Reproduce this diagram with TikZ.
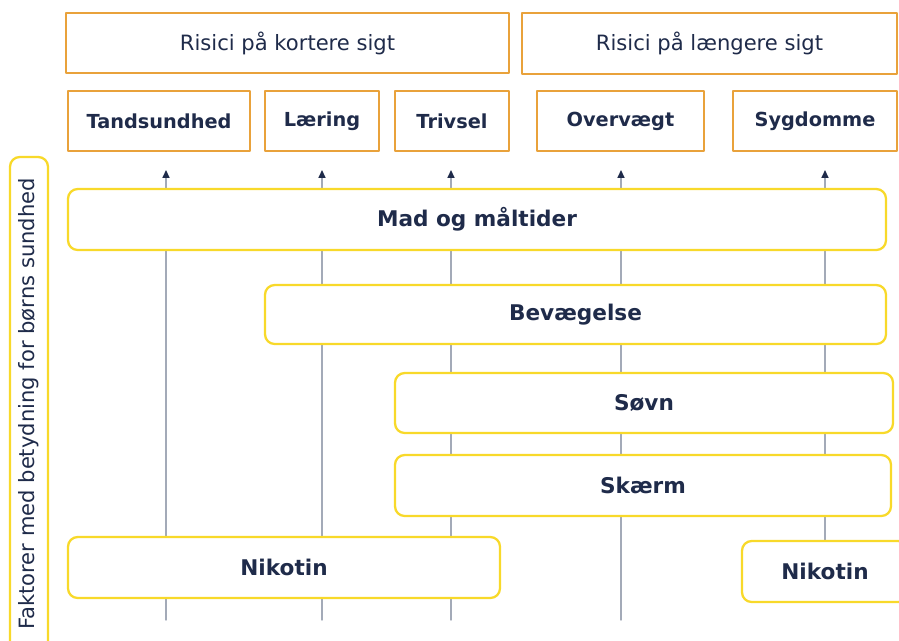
\documentclass[tikz,border=0pt]{standalone}
\usepackage{fontspec}
\setmainfont{DejaVu Sans}
\usetikzlibrary{arrows.meta}
\definecolor{navy}{HTML}{1F2B4A}
\definecolor{riskorange}{HTML}{E9A23B}
\definecolor{factyellow}{HTML}{F8D92A}
\definecolor{linegray}{HTML}{A3AAB8}
\begin{document}
\begin{tikzpicture}[x=0.02cm,y=-0.02cm,line cap=round,line join=round,
  riskhead/.style={draw=riskorange,line width=1.2pt,fill=white,inner sep=0pt,
    text=navy,font=\fontsize{12}{14}\selectfont},
  riskbox/.style={draw=riskorange,line width=1.2pt,fill=white,inner sep=0pt,
    text=navy,font=\fontsize{11}{13}\selectfont\bfseries},
  factbox/.style={draw=factyellow,line width=1.3pt,fill=white,rounded corners=5.5pt,
    inner sep=0pt,text=navy,font=\fontsize{12.3}{14}\selectfont\bfseries},
  link/.style={draw=linegray,line width=0.8pt},
  up/.style={link,-{Triangle[length=4.5pt,width=4pt,fill=navy,color=navy]}}]
\def\u{0.02cm}

% 画布（像素坐标，y 向下）
\useasboundingbox (0,0) rectangle (899,640);
\clip (0,0) rectangle (899,640);

% 竖线的端点：上端为箭头尖，下端为线尾
\coordinate (t1) at (166,170); \coordinate (b1) at (166,620);
\coordinate (t2) at (322,170); \coordinate (b2) at (322,620);
\coordinate (t3) at (451,170); \coordinate (b3) at (451,620);
\coordinate (t4) at (621,170); \coordinate (b4) at (621,620);
\coordinate (t5) at (825,170); \coordinate (b5) at (825,560);

\draw[up] (b1) -- (t1);
\draw[up] (b2) -- (t2);
\draw[up] (b3) -- (t3);
\draw[up] (b4) -- (t4);
\draw[up] (b5) -- (t5);

% 上方：风险
\node[riskhead,minimum width=443*\u,minimum height=60*\u] (kort) at (287.5,43) {Risici på kortere sigt};
\node[riskhead,minimum width=375*\u,minimum height=61*\u] (lang) at (709.5,43.5) {Risici på længere sigt};

\node[riskbox,minimum width=182*\u,minimum height=60*\u] (tand) at (159,121) {Tandsundhed};
\node[riskbox,minimum width=114*\u,minimum height=60*\u] (laer) at (322,121) {Læring};
\node[riskbox,minimum width=114*\u,minimum height=60*\u] (triv) at (452,121) {Trivsel};
\node[riskbox,minimum width=167*\u,minimum height=60*\u] (over) at (620.5,121) {Overvægt};
\node[riskbox,minimum width=164*\u,minimum height=60*\u] (sygd) at (815,121) {Sygdomme};

% 左侧竖排标题
\node[factbox,font=\fontsize{12}{14}\selectfont,rotate=90,
  minimum width=494*\u,minimum height=38*\u] (fakt) at (29,404)
  {Faktorer med betydning for børns sundhed};

% 因素
\node[factbox,minimum width=818*\u,minimum height=61*\u] (mad) at (477,219.5) {Mad og måltider};
\node[factbox,minimum width=621*\u,minimum height=59*\u] (bev) at (575.5,314.5) {Bevægelse};
\node[factbox,minimum width=498*\u,minimum height=60*\u] (sovn) at (644,403) {Søvn};
\node[factbox,minimum width=496*\u,minimum height=61*\u] (skaerm) at (643,485.5) {Skærm};
\node[factbox,minimum width=432*\u,minimum height=61*\u] (nik1) at (284,567.5) {Nikotin};
\node[factbox,minimum width=166*\u,minimum height=61*\u] (nik2) at (825,571.5) {Nikotin};

\end{tikzpicture}
\end{document}
